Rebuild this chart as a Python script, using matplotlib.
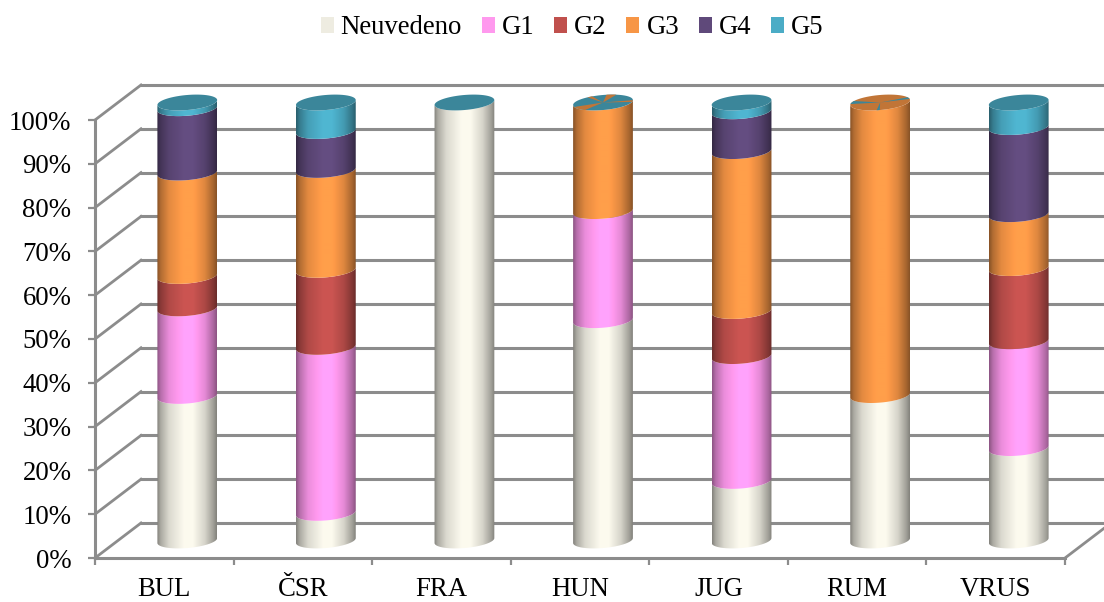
import numpy as np
import matplotlib
matplotlib.use("Agg")
import matplotlib.pyplot as plt
from matplotlib.patches import Patch, Polygon

plt.rcParams["font.family"] = ["Liberation Serif", "DejaVu Serif"]

categories = ["BUL", "ČSR", "FRA", "HUN", "JUG", "RUM", "VRUS"]
series_names = ["Neuvedeno", "G1", "G2", "G3", "G4", "G5"]
neuvedeno = [33.0, 6.3, 100.0, 50.3, 13.6, 33.2, 21.1]
g1 = [20.0, 37.9, 0.0, 24.9, 28.5, 0.0, 24.4]
g2 = [7.4, 17.6, 0.0, 0.0, 10.3, 0.0, 16.7]
g3 = [23.6, 22.8, 0.0, 24.8, 36.5, 66.8, 12.3]
g4 = [14.7, 8.9, 0.0, 0.0, 9.1, 0.0, 19.9]
g5 = [1.3, 6.5, 0.0, 0.0, 2.0, 0.0, 5.6]
colors = ["#EEECE1", "#FF99EE", "#C0504D", "#F79646", "#5F497A", "#4BACC6"]
y_ticks = [0, 10, 20, 30, 40, 50, 60, 70, 80, 90, 100]

W, H = 1104, 602
L, R, T, B = 95, 1065, 120, 558  # front plane of the 3d box, px
DX, DY = 46, 35  # depth of the box, px
GREY = "#8c8c8c"

fig = plt.figure(figsize=(W / 100, H / 100), dpi=100)
ax = fig.add_axes([L / W, 1 - B / H, (R - L) / W, (B - T) / H])
n = len(categories)
px = n / (R - L)  # data units per px, x
py = 100 / (B - T)  # data units per px, y

# floor and back wall
for v in y_ticks:
    ax.plot([0, DX * px], [v, v + DY * py], color=GREY, lw=2, clip_on=False, zorder=1)
    ax.plot([DX * px, n + DX * px], [v + DY * py] * 2, color=GREY, lw=2.2, clip_on=False, zorder=1)
ax.plot([n, n + DX * px], [0, DY * py], color=GREY, lw=2, clip_on=False, zorder=1)


def arc(xc, yc, t0, t1, a=30, b=7.5, rot=5):
    t = np.radians(np.linspace(t0, t1, 60))
    r = np.radians(rot)
    x = a * np.cos(t) * np.cos(r) - b * np.sin(t) * np.sin(r)
    y = a * np.cos(t) * np.sin(r) + b * np.sin(t) * np.cos(r)
    return np.column_stack([xc + x * px, yc + y * py])


def shaded(color):
    # horizontal cylinder shading as a 1xN image
    base = np.array(matplotlib.colors.to_rgb(color))
    u = np.linspace(0, 1, 120)
    f = np.interp(u, [0, 0.06, 0.2, 0.45, 0.6, 0.8, 0.94, 1], [0.55, 0.72, 0.92, 1.06, 1.06, 0.9, 0.68, 0.55])
    return np.clip(base[None, None, :] * f[None, :, None], 0, 1)


def cylinder_segment(xc, y0, y1, color):
    yb = y0 + DY / 2 * py
    yt = y1 + DY / 2 * py
    pts = np.vstack([arc(xc, yb, 180, 360), arc(xc, yt, 360, 180)])
    im = ax.imshow(shaded(color), extent=[xc - 30 * px, xc + 30 * px, yb - 12 * py, yt + 12 * py],
                   aspect="auto", zorder=3, interpolation="bilinear")
    im.set_clip_box(fig.bbox)  # the box depth reaches above the axes
    im.set_clip_path(Polygon(pts, transform=ax.transData))


def dark(color, k=0.78):
    return np.array(matplotlib.colors.to_rgb(color)) * k


# top cap leftovers of the zero height segments: base colour, then wedges
top_base = {3: 5, 5: 3}
top_wedges = {3: [(3, 195, 232), (3, 62, 82), (3, 345, 358), (3, 110, 120)],
              5: [(5, 150, 172), (5, 8, 22), (5, 262, 268)]}

stack = np.array([neuvedeno, g1, g2, g3, g4, g5])
for i in range(n):
    xc = i + 0.5 + DX / 2 * px
    bottom = 0.0
    for s in range(len(series_names)):
        v = stack[s][i]
        if v <= 0:
            continue
        cylinder_segment(xc, bottom, bottom + v, colors[s])
        bottom += v
    yt = bottom + DY / 2 * py
    ax.add_patch(Polygon(arc(xc, yt, 0, 360), fc=dark(colors[top_base.get(i, 5)]), ec="none", zorder=4, clip_on=False))
    for s, t0, t1 in top_wedges.get(i, []):
        pts = np.vstack([[[xc, yt]], arc(xc, yt, t0, t1)])
        ax.add_patch(Polygon(pts, fc=dark(colors[s]), ec="none", zorder=5, clip_on=False))

ax.set_xlim(0, n)
ax.set_ylim(0, 100)
for side in ["top", "right"]:
    ax.spines[side].set_visible(False)
for side in ["left", "bottom"]:
    ax.spines[side].set_color(GREY)
    ax.spines[side].set_linewidth(2.2)
    ax.spines[side].set_zorder(2)
ax.patch.set_alpha(0)
ax.set_yticks(y_ticks)
ax.set_yticklabels([f"{v}%" for v in y_ticks], fontsize=19.3)
ax.set_xticks(np.arange(n + 1))
ax.set_xticklabels([])
ax.set_xticks(np.arange(n) + 0.5, minor=True)
ax.set_xticklabels(categories, minor=True, fontsize=19.3)
ax.tick_params(axis="both", which="major", color=GREY, width=1.6, length=5)
ax.tick_params(axis="y", pad=12)
ax.tick_params(axis="x", which="minor", length=0, pad=14)

handles = [Patch(fc=c, ec="none") for c in colors]
fig.legend(handles, series_names, ncol=6, frameon=False, fontsize=19.3, loc="center",
           bbox_to_anchor=(572 / W, 1 - 28 / H), handlelength=0.49, handleheight=0.49,
           handletextpad=0.26, columnspacing=0.73, borderpad=0)

fig.savefig("out.png", dpi=100)
